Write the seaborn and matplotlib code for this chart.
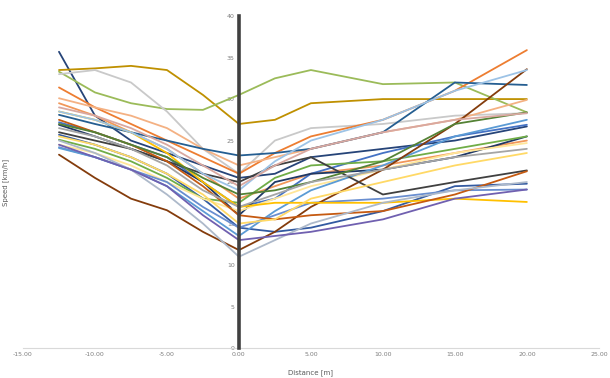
import seaborn as sns
import matplotlib.pyplot as plt
import pandas as pd
import numpy as np

# distance positions (m) where each run was sampled
distance = [-12.5, -10, -7.5, -5, -2.5, 0, 2.5, 5, 10, 15, 20]

# speed readings (km/h), one list per run
run_01 = [35.7, 28.0, 25.0, 23.5, 22.0, 20.5, 21.0, 23.0, 24.0, 25.0, 26.7]
run_02 = [33.5, 33.7, 34.0, 33.5, 30.5, 27.0, 27.5, 29.5, 30.0, 30.0, 30.0]
run_03 = [33.3, 30.8, 29.5, 28.8, 28.7, 30.5, 32.5, 33.5, 31.8, 32.0, 28.4]
run_04 = [33.0, 33.5, 32.0, 28.5, 24.0, 21.0, 25.0, 26.5, 27.0, 28.0, 28.3]
run_05 = [31.4, 29.0, 27.0, 25.0, 23.0, 21.0, 23.5, 25.5, 27.5, 31.0, 35.9]
run_06 = [30.1, 29.0, 28.0, 26.5, 24.0, 22.0, 23.0, 24.0, 26.0, 27.5, 29.9]
run_07 = [29.5, 28.0, 26.0, 24.0, 21.0, 18.0, 19.5, 21.0, 22.0, 23.5, 25.0]
run_08 = [28.1, 27.0, 26.0, 25.0, 24.0, 23.2, 23.5, 24.0, 26.0, 32.0, 31.7]
run_09 = [27.2, 26.0, 24.5, 23.0, 20.0, 17.0, 18.0, 21.0, 23.5, 25.5, 26.9]
run_10 = [26.9, 25.5, 24.0, 22.5, 20.0, 16.0, 20.0, 21.0, 21.5, 23.0, 25.5]
run_11 = [25.7, 24.5, 23.0, 21.0, 18.0, 14.5, 14.0, 14.5, 16.5, 19.5, 19.8]
run_12 = [25.1, 24.0, 22.5, 20.5, 18.0, 17.5, 20.5, 22.0, 22.5, 24.0, 25.5]
run_13 = [24.5, 23.5, 22.0, 20.0, 18.0, 16.5, 18.0, 19.5, 21.5, 23.5, 24.7]
run_14 = [24.2, 23.0, 21.5, 20.0, 17.0, 14.5, 16.0, 17.5, 18.0, 19.0, 19.1]
run_15 = [24.1, 23.0, 21.5, 19.5, 16.5, 13.5, 16.5, 19.0, 22.0, 25.5, 27.5]
run_16 = [23.3, 20.5, 18.0, 16.6, 14.0, 11.8, 14.0, 17.0, 21.5, 27.0, 33.6]
run_17 = [28.5, 27.5, 26.0, 23.5, 20.0, 17.0, 17.5, 17.5, 17.5, 18.0, 17.6]
run_18 = [26.0, 25.0, 24.0, 22.5, 21.0, 20.0, 22.0, 23.0, 18.5, 20.0, 21.4]
run_19 = [27.5, 26.0, 24.5, 22.5, 19.5, 16.0, 15.5, 16.0, 16.5, 18.5, 21.3]
run_20 = [28.5, 27.5, 26.0, 24.0, 21.0, 19.0, 22.5, 25.0, 27.5, 31.0, 33.5]
run_21 = [25.5, 24.5, 23.0, 21.0, 18.5, 15.0, 15.5, 18.0, 20.0, 22.0, 23.5]
run_22 = [25.0, 23.5, 21.5, 18.5, 15.0, 11.0, 13.0, 15.0, 17.5, 19.0, 20.0]
run_23 = [27.0, 26.0, 24.5, 23.0, 20.5, 18.5, 19.0, 20.0, 22.5, 27.0, 28.4]
run_24 = [26.5, 25.5, 24.0, 22.0, 19.0, 17.0, 18.5, 20.0, 21.5, 23.0, 24.0]
run_25 = [29.0, 28.0, 26.5, 24.5, 22.0, 19.5, 22.0, 24.0, 26.0, 27.5, 28.3]
run_26 = [24.5, 23.0, 21.5, 19.5, 16.0, 13.0, 13.5, 14.0, 15.5, 18.0, 19.1]

runs = [run_01, run_02, run_03, run_04, run_05, run_06, run_07, run_08, run_09,
        run_10, run_11, run_12, run_13, run_14, run_15, run_16, run_17, run_18,
        run_19, run_20, run_21, run_22, run_23, run_24, run_25, run_26]

colors = ["#264478", "#BF9000", "#9BBB59", "#C9C9C9", "#ED7D31", "#F4B183",
          "#F1975A", "#255E91", "#4472C4", "#1F3864", "#335AA1", "#70AD47",
          "#FFE699", "#698ED0", "#5B9BD5", "#843C0C", "#FFC000", "#404040",
          "#C55A11", "#9DC3E6", "#FFD966", "#ADB9CA", "#548235", "#A5A5A5",
          "#D9A8A0", "#7060B0"]

rows = []
for i, r in enumerate(runs):
    for d, s in zip(distance, r):
        rows.append({"run": f"run {i + 1}", "Distance": d, "Speed": s})
df = pd.DataFrame(rows)

sns.set_style("white")

fig = plt.figure(figsize=(6.1, 3.78), dpi=100)
ax = fig.add_axes([0.0377, 0.0794, 0.944, 0.878])

sns.lineplot(data=df, x="Distance", y="Speed", hue="run", palette=colors,
             linewidth=1.3, legend=False, sort=False, ax=ax)

ax.set_xlim(-15, 25)
ax.set_ylim(0, 40)
ax.set_xticks(np.arange(-15, 26, 5))
ax.set_xticklabels([f"{v:.2f}" for v in np.arange(-15, 26, 5)])
ax.set_yticks(np.arange(0, 41, 5))

# vertical axis drawn at distance 0
ax.spines["left"].set_position(("data", 0))
ax.spines["left"].set_color("#404040")
ax.spines["left"].set_linewidth(2.6)
ax.spines["left"].set_zorder(5)
ax.spines["bottom"].set_color("#D9D9D9")
ax.spines["bottom"].set_linewidth(0.8)
ax.spines["top"].set_visible(False)
ax.spines["right"].set_visible(False)
ax.tick_params(length=0, labelsize=4.5, colors="#7F7F7F", pad=3)

ax.set_xlabel("Distance [m]", fontsize=5, color="#595959", labelpad=2)
ax.set_ylabel("Speed [km/h]", fontsize=5, color="#595959")
ax.yaxis.set_label_coords(-0.025, 0.5)
ax.xaxis.set_label_coords(0.5, -0.065)

plt.savefig("out.png", dpi=100)
plt.close()
